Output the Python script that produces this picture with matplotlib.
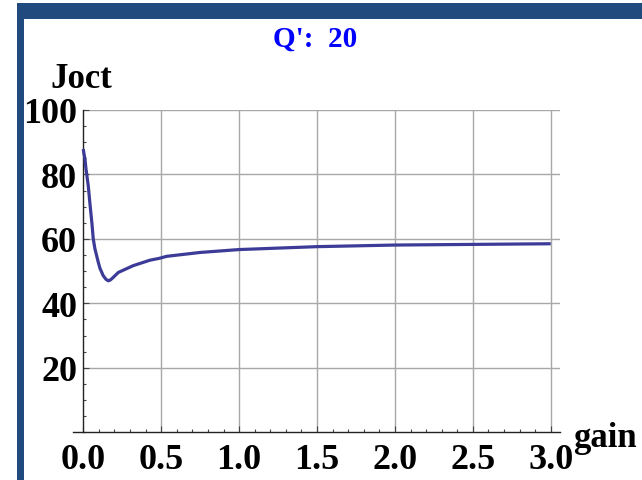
import matplotlib
matplotlib.use('Agg')
import matplotlib.pyplot as plt
from matplotlib.ticker import FixedLocator, MultipleLocator
from matplotlib.patches import Rectangle

# ---- data ----
gain = [0.0, 0.005, 0.011, 0.017, 0.032, 0.043, 0.056, 0.064, 0.075, 0.096, 0.107,
        0.128, 0.145, 0.16, 0.175, 0.193, 0.225,
        0.32, 0.428, 0.49, 0.535, 0.75, 1.0, 1.5, 2.0, 2.5, 3.0]
joct = [87.9, 86.3, 84.8, 81.9, 76.5, 70.8, 64.6, 60.0, 56.9, 52.8, 50.9,
        48.6, 47.5, 47.0, 47.3, 48.1, 49.6,
        51.7, 53.4, 54.0, 54.6, 55.8, 56.7, 57.6, 58.1, 58.3, 58.5]

x_ticks = [0.0, 0.5, 1.0, 1.5, 2.0, 2.5, 3.0]
x_tick_labels = ['0.0', '0.5', '1.0', '1.5', '2.0', '2.5', '3.0']
y_ticks = [20, 40, 60, 80, 100]
y_tick_labels = ['20', '40', '60', '80', '100']
title_text = "Q':  20"
x_label = 'gain'
y_label = 'Joct'

# ---- styling ----
W, H = 642, 481
FONT = 'Liberation Serif'
frame_col = '#214b7e'
grid_col = '#a8a8a8'
line_col = '#3c3c98'

fig = plt.figure(figsize=(W / 100, H / 100), dpi=100)


def fx(px):
    return px / W


def fy(py):
    return 1 - py / H


ax = fig.add_axes([fx(73.3), fy(433.3), (560.1 - 73.3) / W, (433.3 - 111.0) / H])
ax.set_xlim(-0.064, 3.06)
ax.set_ylim(0, 100)
ax.patch.set_alpha(0)

# grid lines
ax.vlines(x_ticks[1:], 0, 100, colors=grid_col, lw=1.0, zorder=1)
ax.hlines(y_ticks, 0, 3.06, colors=grid_col, lw=1.0, zorder=1)

# curve
ax.plot(gain, joct, color=line_col, lw=2.3, solid_joinstyle='round',
        solid_capstyle='butt', zorder=3)

# axes
for s in ['top', 'right']:
    ax.spines[s].set_visible(False)
ax.spines['left'].set_position(('data', 0))
ax.spines['bottom'].set_position(('data', 0))
for s in ['left', 'bottom']:
    ax.spines[s].set_color('#222222')
    ax.spines[s].set_linewidth(1.0)
    ax.spines[s].set_zorder(2)

ax.xaxis.set_major_locator(FixedLocator(x_ticks))
ax.set_xticklabels(x_tick_labels)
ax.xaxis.set_minor_locator(MultipleLocator(0.1))
ax.yaxis.set_major_locator(FixedLocator(y_ticks))
ax.set_yticklabels(y_tick_labels)
ax.yaxis.set_minor_locator(MultipleLocator(5))

ax.tick_params(which='both', direction='in', color='#444444', width=0.8)
ax.tick_params(which='major', length=4.5)
ax.tick_params(which='minor', length=2.4)
ax.tick_params(axis='x', which='major', pad=8)
ax.tick_params(axis='y', which='major', pad=4.5)
for lab in ax.get_xticklabels() + ax.get_yticklabels():
    lab.set_fontfamily(FONT)
    lab.set_fontweight('bold')
    lab.set_fontsize(26)

# labels
fig.text(fx(50), fy(88), y_label, ha='left', va='baseline', fontfamily=FONT,
         fontweight='bold', fontsize=25)
fig.text(fx(573), fy(447), x_label, ha='left', va='baseline', fontfamily=FONT,
         fontweight='bold', fontsize=25)
fig.text(fx(315.5), fy(47), title_text, ha='center', va='baseline', fontfamily=FONT,
         fontweight='bold', fontsize=21, color='#0000ff')

# blue frame
fig.patches.append(Rectangle((fx(16.5), 0), (23.7 - 16.5) / W, fy(4),
                             transform=fig.transFigure, facecolor=frame_col,
                             edgecolor='none', zorder=0))
fig.patches.append(Rectangle((fx(16.5), fy(20)), 1 - fx(16.5), (20 - 4) / H,
                             transform=fig.transFigure, facecolor=frame_col,
                             edgecolor='none', zorder=0))

fig.savefig('out.png', dpi=100)
